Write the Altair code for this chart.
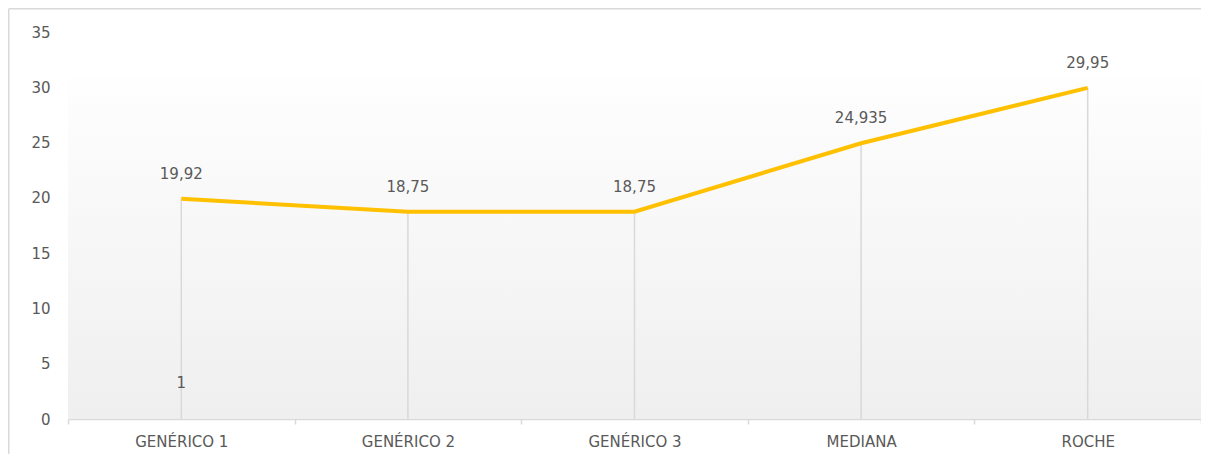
import altair as alt
import pandas as pd

categories = ["GENÉRICO 1", "GENÉRICO 2", "GENÉRICO 3", "MEDIANA", "ROCHE"]
values = [19.92, 18.75, 18.75, 24.935, 29.95]
value_labels = ["19,92", "18,75", "18,75", "24,935", "29,95"]
baseline = [0, 0, 0, 0, 0]
extra_category = ["GENÉRICO 1"]
extra_values = [1]
extra_labels = ["1"]
y_ticks = [0, 5, 10, 15, 20, 25, 30, 35]

df = pd.DataFrame({"cat": categories, "val": values, "lab": value_labels, "zero": baseline})
df2 = pd.DataFrame({"cat": extra_category, "val": extra_values, "lab": extra_labels})

W, H = 1133, 387
FONT = "DejaVu Sans"
TXT = "#595959"
GRID = "#d9d9d9"

xscale = alt.Scale(type="band", paddingInner=0, paddingOuter=0)
xaxis = alt.Axis(title=None, labelAngle=0, tickBand="extent")
yscale = alt.Scale(domain=[0, 35], nice=False, zero=True)
yaxis = alt.Axis(title=None, values=y_ticks)

xenc = alt.X("cat:N", sort=categories, scale=xscale, axis=xaxis)

bg_data = alt.Data(values=[{"k": 1}])
background = alt.Chart(bg_data).mark_rect(
    fill=alt.Gradient(gradient="linear", x1=0, y1=0, x2=0, y2=1,
                      stops=[alt.GradientStop(color="#fefefe", offset=0),
                             alt.GradientStop(color="#efefef", offset=1)])
).encode(x=alt.value(0), x2=alt.value(W), y=alt.value(45), y2=alt.value(H))

border_top = alt.Chart(bg_data).mark_rule(color=GRID, strokeWidth=1.5).encode(
    x=alt.value(-59.25), x2=alt.value(W + 30), y=alt.value(-23.25))
border_left = alt.Chart(bg_data).mark_rule(color=GRID, strokeWidth=1.5).encode(
    x=alt.value(-59.25), y=alt.value(-23.25), y2=alt.value(H + 60))

base = alt.Chart(df)
rules = base.mark_rule(color=GRID, strokeWidth=1.5).encode(
    x=xenc, y=alt.Y("zero:Q", scale=yscale, axis=yaxis), y2="val:Q")
line = base.mark_line(color="#FFC000", strokeWidth=4).encode(
    x=xenc, y=alt.Y("val:Q", scale=yscale, axis=yaxis))
labels = base.mark_text(dy=-25, font=FONT, fontSize=15, color=TXT).encode(
    x=xenc, y=alt.Y("val:Q", scale=yscale, axis=yaxis), text="lab:N")
extra = alt.Chart(df2).mark_text(dy=-25, font=FONT, fontSize=15, color=TXT).encode(
    x=xenc, y=alt.Y("val:Q", scale=yscale, axis=yaxis), text="lab:N")

chart = alt.layer(background, border_top, border_left, rules, line, labels, extra).properties(
    width=W, height=H,
    autosize=alt.AutoSizeParams(type="none"),
    padding={"left": 60, "top": 24, "right": 0, "bottom": 35},
    background="white",
).configure_view(stroke=None).configure_axisX(
    domainColor=GRID, domainWidth=1.5, tickColor=GRID, tickWidth=1.5, tickSize=5,
    labelPadding=10, labelColor=TXT, labelFont=FONT, labelFontSize=15, grid=False,
).configure_axisY(
    domain=False, ticks=False, grid=False, labelPadding=18,
    labelColor=TXT, labelFont=FONT, labelFontSize=15,
)

chart.save("out.html", embed_options={"renderer": "svg", "actions": False})
